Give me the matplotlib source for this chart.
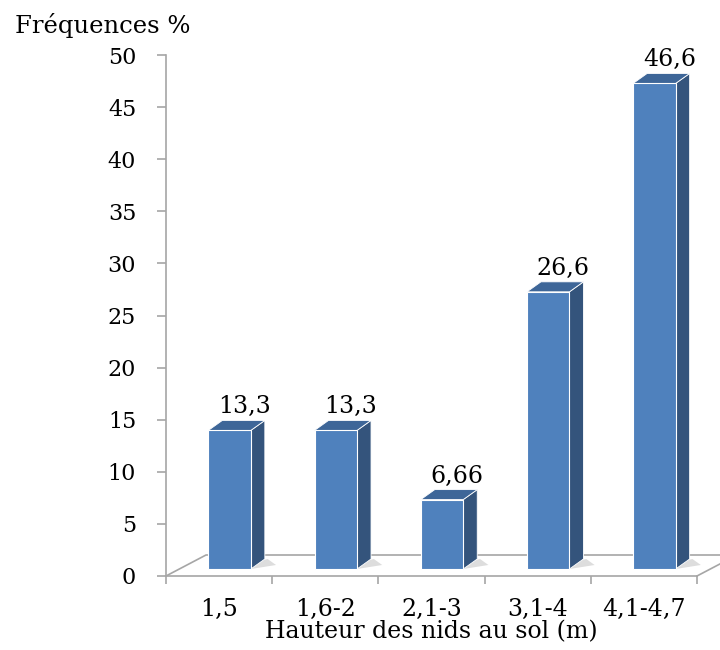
import numpy as np
import matplotlib
matplotlib.use("Agg")
import matplotlib.pyplot as plt
from matplotlib.patches import Polygon, Rectangle

# nest heights (m) and share of nests in each class (%)
classes = ["1,5", "1,6-2", "2,1-3", "3,1-4", "4,1-4,7"]
freq = [13.3, 13.3, 6.66, 26.6, 46.6]
freq_labels = ["13,3", "13,3", "6,66", "26,6", "46,6"]
yticks = [0, 5, 10, 15, 20, 25, 30, 35, 40, 45, 50]

plt.rcParams["font.family"] = "DejaVu Serif"

W, H = 720, 650
fig = plt.figure(figsize=(W / 100, H / 100), dpi=100)
left, right, top, bottom = 166, 697, 55, 576
ax = fig.add_axes([left / W, 1 - bottom / H, (right - left) / W, (bottom - top) / H])
ax.set_xlim(-0.5, 4.5)
ax.set_ylim(0, 50)

# pixel -> data unit factors for the fake 3d depth
px_x = 5 / (right - left)
px_y = 50 / (bottom - top)

front = "#4F81BD"
side = "#34547C"
roof = "#3E6698"
grid = "#A6A6A6"

# floor of the 3d box
fdx, fdy = 40 * px_x, 21 * px_y
ax.plot([-0.5, -0.5 + fdx, 4.5 + fdx], [0, fdy, fdy], color=grid, lw=1.2, clip_on=False)
ax.plot([4.5, 4.5 + fdx], [0, fdy], color=grid, lw=1.2, clip_on=False)

# bars sit half way into the floor
ox, oy = 10.5 * px_x, 7 * px_y
bdx, bdy = 14 * px_x, 10 * px_y
bw = 0.40
x = np.arange(len(classes))
for xi, v, lab in zip(x, freq, freq_labels):
    x0 = xi - bw / 2 + ox
    x1 = x0 + bw
    y0 = oy
    y1 = oy + v
    # soft shadow on the floor
    ax.add_patch(Polygon([(x1, y0), (x1 + bdx * 1.8, y0 + bdy * 0.4), (x1 + bdx * 1.2, y0 + bdy * 1.0), (x1, y0 + bdy * 0.6)],
                         closed=True, fc="#DDDDDD", ec="none", clip_on=False, zorder=2))
    ax.add_patch(Polygon([(x1, y0), (x1 + bdx, y0 + bdy), (x1 + bdx, y1 + bdy), (x1, y1)],
                         closed=True, fc=side, ec="white", lw=0.6, clip_on=False, zorder=3))
    ax.add_patch(Polygon([(x0, y1), (x1, y1), (x1 + bdx, y1 + bdy), (x0 + bdx, y1 + bdy)],
                         closed=True, fc=roof, ec="white", lw=0.6, clip_on=False, zorder=3))
    ax.add_patch(Rectangle((x0, y0), bw, v, fc=front, ec="white", lw=0.8, clip_on=False, zorder=4))
    ax.text(xi + ox + 0.14, y1 + bdy + 0.2, lab, ha="center", va="bottom", fontsize=17, zorder=5)

for s in ["top", "right"]:
    ax.spines[s].set_visible(False)
ax.spines["left"].set_color(grid)
ax.spines["bottom"].set_color(grid)
ax.spines["left"].set_linewidth(1.2)
ax.spines["bottom"].set_linewidth(1.2)

ax.set_yticks(yticks)
ax.set_yticklabels([str(t) for t in yticks], fontsize=16)
ax.tick_params(axis="y", colors=grid, labelcolor="black", length=6.5, width=1.2, pad=15)

ax.set_xticks(x)
ax.set_xticklabels(classes, fontsize=17)
ax.set_xticks(np.arange(-0.5, 5, 1), minor=True)
ax.tick_params(axis="x", which="major", length=0, pad=16)
ax.tick_params(axis="x", which="minor", colors=grid, length=6, width=1.2)

ax.set_xlabel("Hauteur des nids au sol (m)", fontsize=17, labelpad=-1)
fig.text(15 / W, 1 - 25 / H, "Fréquences %", fontsize=17.5, ha="left", va="center")

fig.savefig("out.png", dpi=100)
